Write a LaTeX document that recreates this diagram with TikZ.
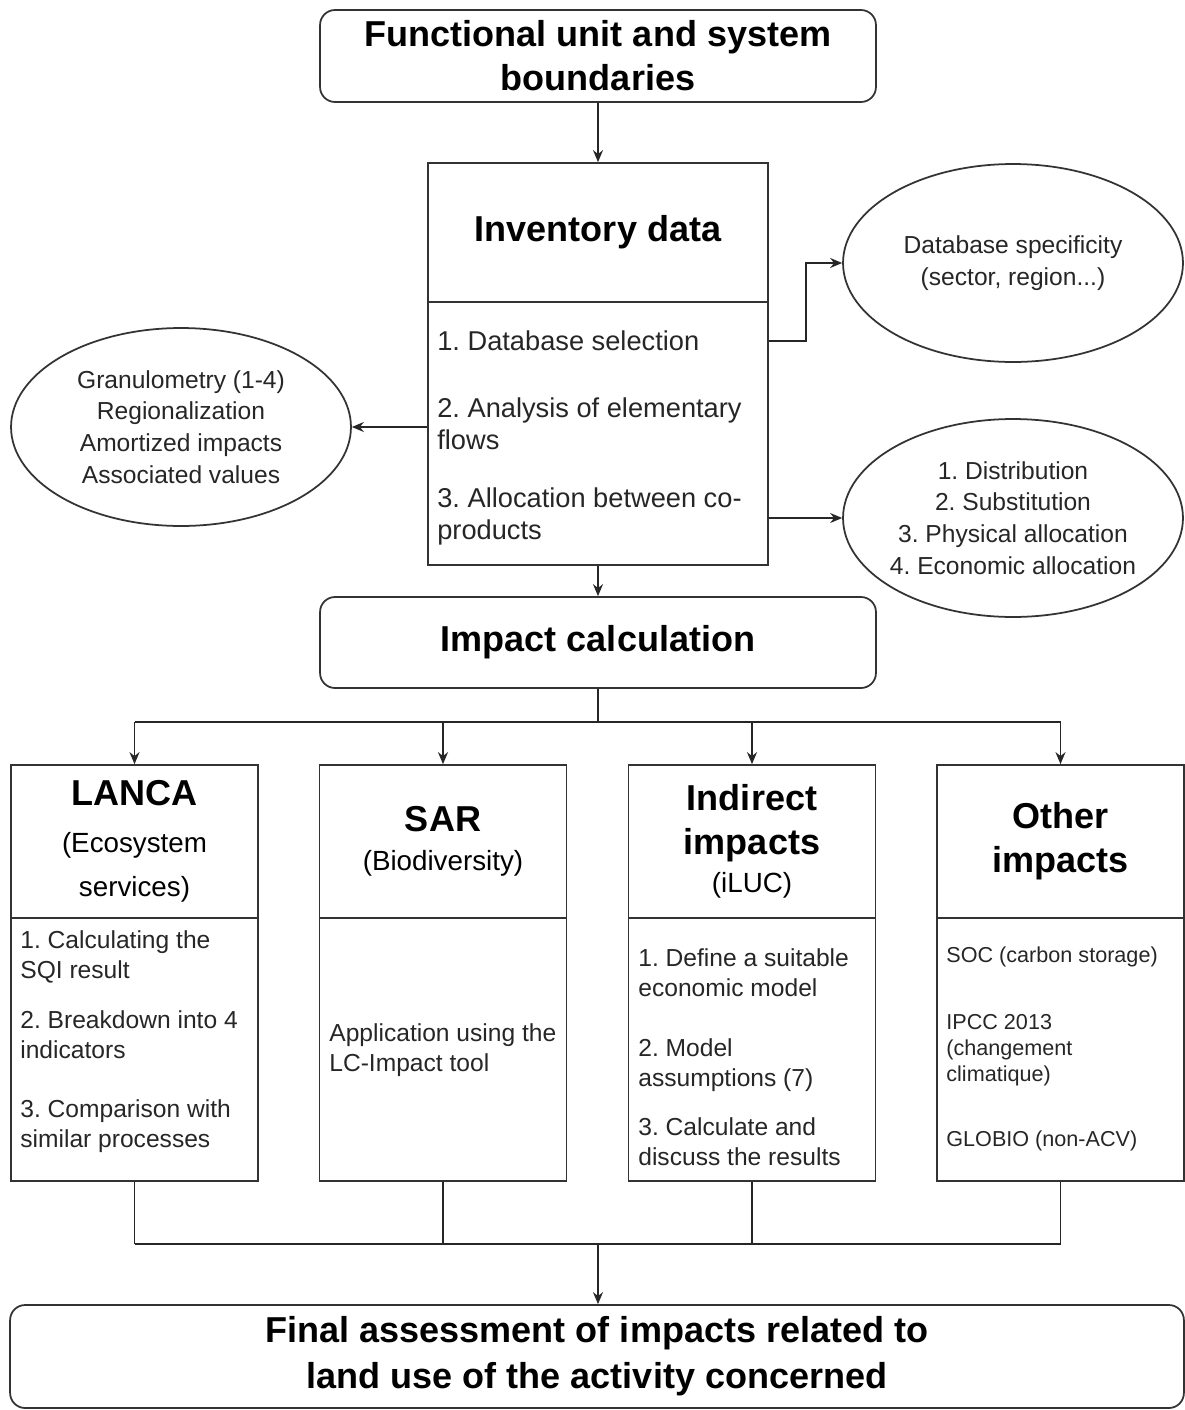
\documentclass[tikz,border=0pt]{standalone}
\usepackage{fontspec}
\setmainfont{Liberation Sans}
\usetikzlibrary{shapes.geometric, arrows.meta, positioning}
\frenchspacing

\begin{document}
\begin{tikzpicture}[x=0.02cm, y=-0.02cm,
        rbox/.style={draw=black!80, line width=1pt, rectangle, rounded corners=3mm, minimum width=11.12cm, minimum height=1.84cm, align=center, font=\fontsize{20.5}{25}\selectfont\bfseries},
        box/.style={draw=black!80, line width=1pt, rectangle, minimum width=6.8cm},
        col/.style={draw=black!80, line width=1pt, rectangle, minimum width=4.94cm, align=center, font=\fontsize{15.8}{25}\selectfont},
        bubble/.style={draw=black!80, line width=1pt, ellipse, minimum width=6.8cm, minimum height=3.96cm, inner sep=0pt, align=center, text=black!85, font=\fontsize{14}{18}\selectfont},
        item/.style={anchor=west, inner sep=0pt, align=left, text=black!85, font=\fontsize{14}{17}\selectfont},
        arr/.style={draw=black!85, line width=1pt, -{Stealth[length=2.4mm, width=2mm]}},
        link/.style={draw=black!85, line width=1pt}
    ]
        \useasboundingbox (0,0) rectangle (1184,1410);

        % Top of the flow
        \node[rbox] (fu) at (598,56) {Functional unit and system\\boundaries};

        % Inventory block
        \node[box, minimum height=2.78cm, font=\fontsize{20.5}{25}\selectfont\bfseries] (inv) at (598,232.5) {Inventory data};
        \node[box, minimum height=5.26cm] (invlist) at (598,433.5) {};
        \node[item, font=\fontsize{15.5}{18}\selectfont] (db) at (437,341) {1. Database selection};
        \node[item, font=\fontsize{15.5}{18}\selectfont] (flows) at (437,424) {2. Analysis of elementary\\flows};
        \node[item, font=\fontsize{15.5}{18}\selectfont] (alloc) at (437,516.5) {3. Allocation between co-\\products};

        % Side ellipses
        \node[bubble] (spec) at (1013,263) {Database specificity\\(sector, region...)};
        \node[bubble] (granu) at (181,427) {Granulometry (1-4)\\Regionalization\\Amortized impacts\\Associated values};
        \node[bubble, inner xsep=-3pt] (methods) at (1013,518) {1. Distribution\\2. Substitution\\3. Physical allocation\\4. Economic allocation};

        % Impact calculation
        \node[rbox, minimum height=1.82cm] (calc) at (598,642.5) {Impact calculation};

        % Four methods
        \node[col, minimum height=3.06cm] (lanca) at (134.5,841.5) {{\fontsize{20.5}{25}\selectfont\bfseries LANCA}\\[2pt](Ecosystem\\services)};
        \node[col, minimum height=5.26cm] (lancalist) at (134.5,1049.5) {};
        \node[col, minimum height=3.06cm] (sar) at (443,841.5) {{\fontsize{20.5}{25}\selectfont\bfseries SAR}\\[-3pt](Biodiversity)};
        \node[col, minimum height=5.26cm] (sarlist) at (443,1049.5) {};
        \node[col, minimum height=3.06cm] (iluc) at (752,841.5) {{\fontsize{20.5}{25}\selectfont\bfseries Indirect}\\{\fontsize{20.5}{25}\selectfont\bfseries impacts}\\[-3pt](iLUC)};
        \node[col, minimum height=5.26cm] (iluclist) at (752,1049.5) {};
        \node[col, minimum height=3.06cm, font=\fontsize{20.5}{25}\selectfont\bfseries] (other) at (1060.5,841.5) {Other\\impacts};
        \node[col, minimum height=5.26cm] (otherlist) at (1060.5,1049.5) {};

        % Method steps
        \node[item] (sqi) at (20,957) {1. Calculating the\\SQI result};
        \node[item] (breakdown) at (20,1035) {2. Breakdown into 4\\indicators};
        \node[item] (compare) at (20,1126.5) {3. Comparison with\\similar processes};
        \node[item] (lcimpact) at (329,1050) {Application using the\\LC-Impact tool};
        \node[item] (econ) at (638,972.5) {1. Define a suitable\\economic model};
        \node[item] (assume) at (638,1065) {2. Model\\assumptions (7)};
        \node[item] (results) at (638,1142) {3. Calculate and\\discuss the results};
        \node[item, font=\fontsize{12.3}{14.8}\selectfont] (soc) at (946,957) {SOC (carbon storage)};
        \node[item, font=\fontsize{12.3}{14.8}\selectfont] (ipcc) at (946,1050) {IPCC 2013\\(changement\\climatique)};
        \node[item, font=\fontsize{12.3}{14.8}\selectfont] (globio) at (946,1141) {GLOBIO (non-ACV)};

        % Final assessment
        \node[rbox, minimum width=23.48cm, minimum height=2.06cm] (final) at (597,1356.5) {Final assessment of impacts related to\\[1pt]land use of the activity concerned};

        % Arrows
        \draw[arr] (fu) -- (inv);
        \draw[arr] (invlist.east |- db.west) -- ++(37,0) |- (spec.west);
        \draw[arr] (invlist.west |- granu.east) -- (granu.east);
        \draw[arr] (invlist.east |- methods.west) -- (methods.west);
        \draw[arr] (invlist) -- (calc);

        \coordinate (split) at (598,722);
        \draw[link] (calc.south) -- (split);
        \draw[link] (split -| lanca.north) -- (split -| other.north);
        \foreach \b in {lanca, sar, iluc, other}
            \draw[arr] (split -| \b.north) -- (\b.north);

        \coordinate (join) at (598,1244);
        \foreach \b in {lancalist, sarlist, iluclist, otherlist}
            \draw[link] (\b.south) -- (\b.south |- join);
        \draw[link] (join -| lancalist.south) -- (join -| otherlist.south);
        \draw[arr] (join) -- (join |- final.north);

    \end{tikzpicture}
\end{document}
